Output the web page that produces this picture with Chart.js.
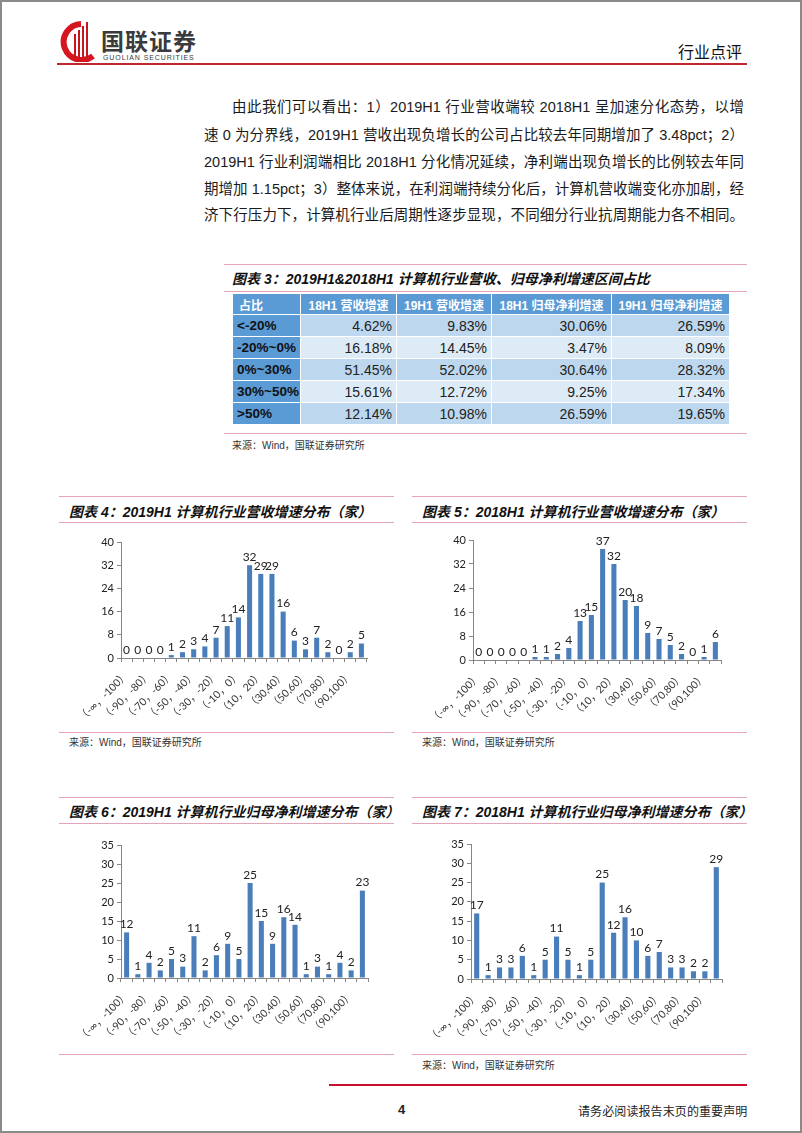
<!DOCTYPE html>
<html>
<head>
<meta charset="utf-8">
<script src="https://cdn.jsdelivr.net/npm/chart.js@4.4.0/dist/chart.umd.min.js"></script>
<style>
  body { margin: 0; background: #fff; }
  #page {
    position: relative; width: 802px; height: 1133px; box-sizing: border-box;
    border: 2px solid #8a8a8a; overflow: hidden;
    font-family: "Liberation Sans", "Noto Sans CJK SC", sans-serif; color: #222;
  }
  .abs { position: absolute; }
  .pink { position: absolute; height: 0; border-top: 1.5px solid #e3a3b8; }
  .ttl { position: absolute; font-weight: bold; font-style: italic; font-size: 14px; line-height: 20px; color: #111; white-space: nowrap; }
  .src { position: absolute; font-size: 10px; line-height: 14px; color: #333; white-space: nowrap; }
  .para { position: absolute; left: 202px; width: 540px; font-size: 14.5px; line-height: 20px;
          text-align: justify; text-align-last: justify; white-space: nowrap; color: #1a1a1a; }
  table { position: absolute; left: 230px; top: 291px; width: 497px; border-collapse: collapse; table-layout: fixed; }
  td { border: 1px solid #fff; padding: 0 4px; height: 21px; font-size: 14px; white-space: nowrap; overflow: hidden; }
  td.h { background: #5a9ad5; color: #fff; font-weight: bold; font-size: 12px; text-align: center; padding: 0 2px; height: 20px; }
  td.h0 { text-align: left; padding-left: 6px; }
  td.c0 { background: #5a9ad5; font-weight: bold; font-size: 13.5px; color: #111; text-align: left; padding: 0 2px 0 4px; }
  td.v { text-align: right; padding-right: 4px; }
  tr.odd td.v { background: #bdd7ee; }
  tr.even td.v { background: #ddebf7; }
  canvas { position: absolute; }
</style>
</head>
<body>
<div id="page">
  <!-- 页眉 -->
  <svg class="abs" style="left:55px;top:18px" width="44" height="42" viewBox="0 0 44 42">
    <path d="M24 4 A18 18 0 1 0 36 36" fill="none" stroke="#d6161e" stroke-width="6"/>
    <rect x="17" y="14" width="2" height="24" fill="#c4161c"/>
    <rect x="21" y="10" width="2" height="28" fill="#c4161c"/>
    <rect x="25" y="6" width="2" height="32" fill="#c4161c"/>
    <rect x="29" y="2" width="2" height="36" fill="#c4161c"/>
  </svg>
  <div class="abs" style="left:99px;top:21px;font-size:23px;font-weight:bold;color:#3b3b3b;letter-spacing:1px;font-family:'Noto Sans CJK SC'">国联证券</div>
  <div class="abs" style="left:101px;top:52px;font-size:7px;color:#3b3b3b;letter-spacing:0.9px">GUOLIAN SECURITIES</div>
  <div class="abs" style="left:676px;top:37px;font-size:16px;color:#111;font-family:'Noto Sans CJK SC'">行业点评</div>
  <div class="abs" style="left:55px;top:61px;width:690px;height:2px;background:#c0262d"></div>

  <!-- 正文 -->
  <div class="para" style="top:95px;left:230px;width:512px">由此我们可以看出：1）2019H1 行业营收端较 2018H1 呈加速分化态势，以增</div>
  <div class="para" style="top:123px">速 0 为分界线，2019H1 营收出现负增长的公司占比较去年同期增加了 3.48pct；2）</div>
  <div class="para" style="top:150px">2019H1 行业利润端相比 2018H1 分化情况延续，净利端出现负增长的比例较去年同</div>
  <div class="para" style="top:177px">期增加 1.15pct；3）整体来说，在利润端持续分化后，计算机营收端变化亦加剧，经</div>
  <div class="para" style="top:203px">济下行压力下，计算机行业后周期性逐步显现，不同细分行业抗周期能力各不相同。</div>

  <!-- 图表3 -->
  <div class="pink" style="left:222px;top:262px;width:523px"></div>
  <div class="ttl" style="left:230px;top:267px">图表 3：2019H1&amp;2018H1 计算机行业营收、归母净利增速区间占比</div>
  <div class="pink" style="left:222px;top:289px;width:523px"></div>
  <table id="tbl"></table>
  <div class="pink" style="left:222px;top:431px;width:523px"></div>
  <div class="src" style="left:230px;top:437px">来源：Wind，国联证券研究所</div>

  <!-- 图表4 / 5 -->
  <div class="pink" style="left:57px;top:494px;width:335px"></div>
  <div class="ttl" style="left:67px;top:500px">图表 4：2019H1 计算机行业营收增速分布（家）</div>
  <div class="pink" style="left:57px;top:520px;width:335px"></div>
  <div class="pink" style="left:57px;top:730px;width:335px"></div>
  <div class="src" style="left:67px;top:734px">来源：Wind，国联证券研究所</div>

  <div class="pink" style="left:410px;top:494px;width:335px"></div>
  <div class="ttl" style="left:420px;top:500px">图表 5：2018H1 计算机行业营收增速分布（家）</div>
  <div class="pink" style="left:410px;top:520px;width:335px"></div>
  <div class="pink" style="left:410px;top:730px;width:335px"></div>
  <div class="src" style="left:420px;top:734px">来源：Wind，国联证券研究所</div>

  <!-- 图表6 / 7 -->
  <div class="pink" style="left:57px;top:795px;width:335px"></div>
  <div class="ttl" style="left:67px;top:800px">图表 6：2019H1 计算机行业归母净利增速分布（家）</div>
  <div class="pink" style="left:57px;top:821px;width:335px"></div>
  <div class="pink" style="left:57px;top:1052px;width:335px"></div>

  <div class="pink" style="left:410px;top:795px;width:335px"></div>
  <div class="ttl" style="left:420px;top:800px">图表 7：2018H1 计算机行业归母净利增速分布（家）</div>
  <div class="pink" style="left:410px;top:821px;width:335px"></div>
  <div class="pink" style="left:410px;top:1052px;width:335px"></div>
  <div class="src" style="left:420px;top:1057px">来源：Wind，国联证券研究所</div>

  <canvas id="c4" width="318" height="208" style="left:59px;top:520px"></canvas>
  <canvas id="c5" width="320" height="212" style="left:411px;top:518px"></canvas>
  <canvas id="c6" width="319" height="225" style="left:59px;top:823px"></canvas>
  <canvas id="c7" width="323" height="227" style="left:409px;top:822px"></canvas>

  <!-- 页脚 -->
  <div class="abs" style="left:327px;top:1082px;width:418px;height:2px;background:#c8102e"></div>
  <div class="abs" style="left:396px;top:1100px;font-size:13px;font-weight:bold;color:#222">4</div>
  <div class="abs" style="left:576px;top:1100px;font-size:12px;color:#222;letter-spacing:0.1px;font-family:'Noto Sans CJK SC'">请务必阅读报告末页的重要声明</div>
</div>

<script>
// 区间（%）
var categories = ['（-∞，-100）', '（-100，-90）', '（-90，-80）', '（-80，-70）', '（-70，-60）', '（-60，-50）',
  '（-50，-40）', '（-40，-30）', '（-30，-20）', '（-20，-10）', '（-10，0）', '（0，10）', '（10，20）',
  '（20,30）', '（30,40）', '（40,50）', '（50,60）', '（60,70）', '（70,80）', '（80,90）', '（90,100）', '（100,+∞）'];

// 公司数量（家）
var revenue2019 = [0, 0, 0, 0, 1, 2, 3, 4, 7, 11, 14, 32, 29, 29, 16, 6, 3, 7, 2, 0, 2, 5];
var revenue2018 = [0, 0, 0, 0, 0, 1, 1, 2, 4, 13, 15, 37, 32, 20, 18, 9, 7, 5, 2, 0, 1, 6];
var profit2019 = [12, 1, 4, 2, 5, 3, 11, 2, 6, 9, 5, 25, 15, 9, 16, 14, 1, 3, 1, 4, 2, 23];
var profit2018 = [17, 1, 3, 3, 6, 1, 5, 11, 5, 1, 5, 25, 12, 16, 10, 6, 7, 3, 3, 2, 2, 29];

// 纵轴刻度
var revenueTicks = [0, 4, 8, 12, 16, 20, 24, 28, 32, 36, 40];
var profitTicks = [0, 5, 10, 15, 20, 25, 30, 35];

// 图表3 表格
var tableHead = ['占比', '18H1 营收增速', '19H1 营收增速', '18H1 归母净利增速', '19H1 归母净利增速'];
var tableRanges = ['<-20%', '-20%~0%', '0%~30%', '30%~50%', '>50%'];
var rev18Share = ['4.62%', '16.18%', '51.45%', '15.61%', '12.14%'];
var rev19Share = ['9.83%', '14.45%', '52.02%', '12.72%', '10.98%'];
var prof18Share = ['30.06%', '3.47%', '30.64%', '9.25%', '26.59%'];
var prof19Share = ['26.59%', '8.09%', '28.32%', '17.34%', '19.65%'];

/* 表格 */
var colW = [68, 96, 95, 120, 118];
var tbl = document.getElementById('tbl');
var html = '<colgroup>';
colW.forEach(function (w) { html += '<col style="width:' + w + 'px">'; });
html += '</colgroup><tr>';
tableHead.forEach(function (h, i) {
  html += '<td class="h' + (i === 0 ? ' h0' : '') + '">' + h + '</td>';
});
html += '</tr>';
tableRanges.forEach(function (r, i) {
  html += '<tr class="' + (i % 2 === 0 ? 'odd' : 'even') + '">';
  html += '<td class="c0">' + r.replace('<', '&lt;').replace('>', '&gt;') + '</td>';
  [rev18Share, rev19Share, prof18Share, prof19Share].forEach(function (col) {
    html += '<td class="v">' + col[i] + '</td>';
  });
  html += '</tr>';
});
tbl.innerHTML = html;

/* 柱子上方的数值 */
var barLabels = {
  id: 'barLabels',
  afterDatasetsDraw: function (chart) {
    var ctx = chart.ctx;
    var meta = chart.getDatasetMeta(0);
    ctx.save();
    ctx.font = '12px Lato, "Noto Sans CJK SC", sans-serif';
    ctx.fillStyle = '#222';
    ctx.textAlign = 'center';
    ctx.textBaseline = 'bottom';
    meta.data.forEach(function (bar, i) {
      ctx.fillText(chart.data.datasets[0].data[i], bar.x, bar.y - 2);
    });
    ctx.restore();
  }
};

function makeChart(id, values, ticks) {
  var step = ticks[1] - ticks[0];
  return new Chart(document.getElementById(id).getContext('2d'), {
    type: 'bar',
    data: {
      labels: categories,
      datasets: [{
        data: values,
        backgroundColor: '#4a7ebb',
        categoryPercentage: 1,
        barPercentage: 0.45
      }]
    },
    options: {
      responsive: false,
      animation: false,
      layout: { padding: { top: 20, right: 12, left: 0, bottom: 0 } },
      plugins: { legend: { display: false }, tooltip: { enabled: false } },
      scales: {
        x: {
          grid: { drawOnChartArea: false, drawTicks: true, tickLength: 4, color: '#868686', offset: true },
          border: { color: '#868686' },
          ticks: {
            autoSkip: false, maxRotation: 45, minRotation: 45, padding: 7,
            color: '#333', font: { size: 10.5, family: 'Lato, "Noto Sans CJK SC", sans-serif' },
            callback: function (v, i) { return i % 2 === 0 ? categories[i] : ''; }
          },
          afterFit: function (s) { s.height = 72; }
        },
        y: {
          min: ticks[0], max: ticks[ticks.length - 1],
          grid: { drawOnChartArea: false, drawTicks: true, tickLength: 4, color: '#868686' },
          border: { color: '#868686' },
          ticks: { stepSize: step, padding: 3, color: '#222', font: { size: 11, family: 'Lato, sans-serif' } },
          afterFit: function (s) { s.width = 60; }
        }
      }
    },
    plugins: [barLabels]
  });
}

makeChart('c4', revenue2019, revenueTicks);
makeChart('c5', revenue2018, revenueTicks);
makeChart('c6', profit2019, profitTicks);
makeChart('c7', profit2018, profitTicks);
</script>
</body>
</html>
